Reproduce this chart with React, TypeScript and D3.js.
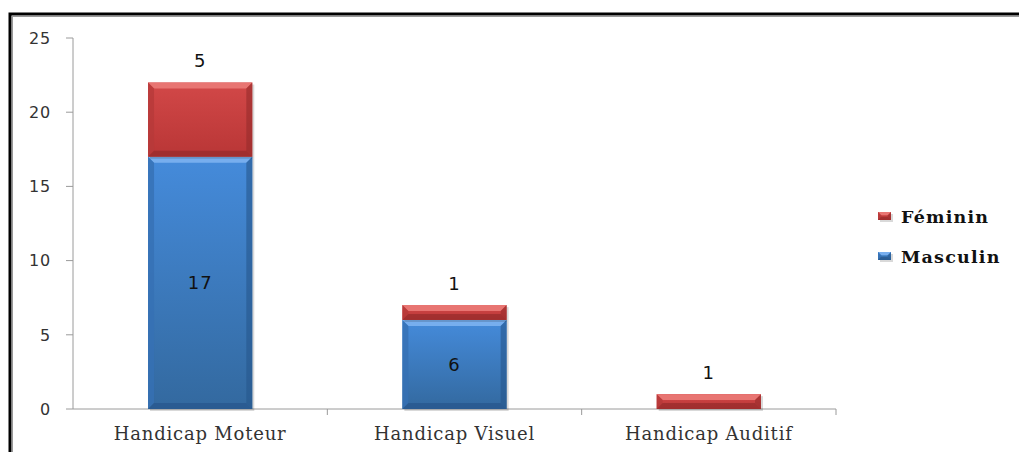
import React from "react";
import * as d3 from "d3";

const categories = ["Handicap Moteur", "Handicap Visuel", "Handicap Auditif"];
const masculin = [17, 6, 0];
const feminin = [5, 1, 1];
const yTicks = [0, 5, 10, 15, 20, 25];
const seriesNames = ["Féminin", "Masculin"];

const W = 1019;
const H = 452;
const plot = { left: 73, right: 836, top: 38, bottom: 409 };

const palette = {
  red: { id: "gRed", top: "#D24848", bottom: "#B93636", light: "#E87572", dark: "#962B2B", side: "#B73A3A" },
  blue: { id: "gBlue", top: "#458BDB", bottom: "#33699F", light: "#77AEEE", dark: "#27568C", side: "#3670B4" },
};

type Tone = typeof palette.red;

function BevelBar({ x, y, w, h, tone }: { x: number; y: number; w: number; h: number; tone: Tone }) {
  if (h <= 0) return null;
  const b = Math.min(6, h / 2.5, w / 4);
  const x2 = x + w;
  const y2 = y + h;
  const pts = (arr: number[][]) => arr.map((p) => p.join(",")).join(" ");
  return (
    <g>
      <rect x={x + 2} y={y + 2} width={w} height={h} fill="#000" opacity={0.15} />
      <rect x={x} y={y} width={w} height={h} fill={`url(#${tone.id})`} />
      <polygon points={pts([[x, y], [x2, y], [x2 - b, y + b], [x + b, y + b]])} fill={tone.light} />
      <polygon points={pts([[x, y], [x + b, y + b], [x + b, y2 - b], [x, y2]])} fill={tone.side} opacity={0.8} />
      <polygon points={pts([[x2, y], [x2, y2], [x2 - b, y2 - b], [x2 - b, y + b]])} fill={tone.dark} opacity={0.6} />
      <polygon points={pts([[x, y2], [x + b, y2 - b], [x2 - b, y2 - b], [x2, y2]])} fill={tone.dark} opacity={0.7} />
    </g>
  );
}

export default function App() {
  const x = d3.scaleBand<string>().domain(categories).range([plot.left, plot.right]).paddingInner(0).paddingOuter(0);
  const y = d3.scaleLinear().domain([0, 25]).range([plot.bottom, plot.top]);
  const barW = x.bandwidth() * 0.41;
  const sans = "'DejaVu Sans', Verdana, sans-serif";
  const serif = "'DejaVu Serif', Cambria, serif";

  return (
    <svg width={W} height={H} style={{ position: "absolute", left: 0, top: 0, background: "#fff" }}>
      <defs>
        {[palette.red, palette.blue].map((t) => (
          <linearGradient key={t.id} id={t.id} x1="0" y1="0" x2="0" y2="1">
            <stop offset="0" stopColor={t.top} />
            <stop offset="1" stopColor={t.bottom} />
          </linearGradient>
        ))}
      </defs>

      {/* frame */}
      <rect x={10} y={14} width={W + 20} height={H + 20} fill="none" stroke="#000" strokeWidth={3} />
      <rect x={12.5} y={16.5} width={W + 20} height={H + 20} fill="none" stroke="#999" strokeWidth={1} />

      {/* y axis */}
      <line x1={plot.left} x2={plot.left} y1={plot.top} y2={plot.bottom} stroke="#9a9a9a" />
      {yTicks.map((t) => (
        <g key={t}>
          <line x1={plot.left - 7} x2={plot.left} y1={y(t)} y2={y(t)} stroke="#9a9a9a" />
          <text x={plot.left - 22} y={y(t)} dy="0.36em" textAnchor="end" fontFamily={sans} fontSize={16} letterSpacing={0.8} fill="#333">
            {t}
          </text>
        </g>
      ))}

      {/* x axis */}
      <line x1={plot.left} x2={plot.right} y1={plot.bottom} y2={plot.bottom} stroke="#9a9a9a" />
      {categories.map((c, i) => (
        <line key={"t" + i} x1={(x(c) as number) + x.bandwidth()} x2={(x(c) as number) + x.bandwidth()} y1={plot.bottom} y2={plot.bottom + 6} stroke="#9a9a9a" />
      ))}
      {categories.map((c) => (
        <text key={c} x={(x(c) as number) + x.bandwidth() / 2} y={440} textAnchor="middle" fontFamily={serif} fontSize={18} letterSpacing={0.8} fill="#333">
          {c}
        </text>
      ))}

      {/* stacked bars */}
      {categories.map((c, i) => {
        const cx = (x(c) as number) + x.bandwidth() / 2;
        const bx = cx - barW / 2;
        const m = masculin[i];
        const f = feminin[i];
        const topM = y(m);
        const topF = y(m + f);
        return (
          <g key={c}>
            <BevelBar x={bx} y={topM} w={barW} h={plot.bottom - topM} tone={palette.blue} />
            <BevelBar x={bx} y={topF} w={barW} h={topM - topF} tone={palette.red} />
            {m > 0 && (
              <text x={cx} y={(topM + plot.bottom) / 2} dy="0.36em" textAnchor="middle" fontFamily={sans} fontSize={18} letterSpacing={1} fill="#111">
                {m}
              </text>
            )}
            <text x={cx} y={topF - 22} dy="0.36em" textAnchor="middle" fontFamily={sans} fontSize={18} letterSpacing={1} fill="#111">
              {f}
            </text>
          </g>
        );
      })}

      {/* legend */}
      {seriesNames.map((s, i) => {
        const ly = 216 + i * 40;
        const tone = i === 0 ? palette.red : palette.blue;
        return (
          <g key={s}>
            <BevelBar x={878} y={ly - 4} w={13} h={8} tone={tone} />
            <text x={901} y={ly + 6.5} fontFamily={serif} fontWeight="bold" fontSize={17.5} letterSpacing={1.2} fill="#111">
              {s}
            </text>
          </g>
        );
      })}
    </svg>
  );
}
